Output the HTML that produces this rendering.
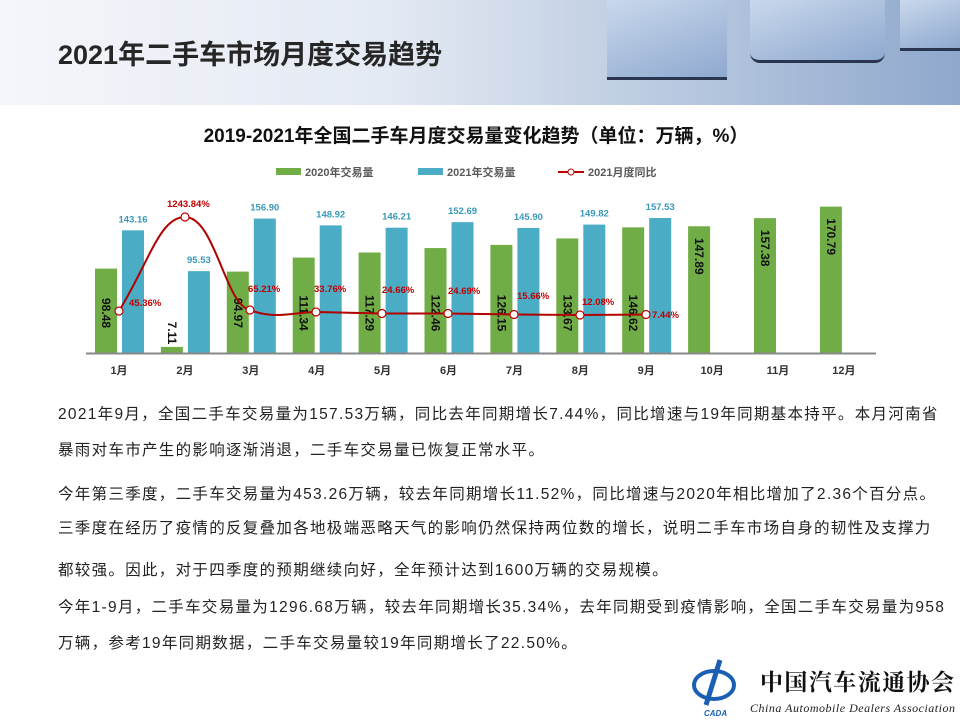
<!DOCTYPE html>
<html><head><meta charset="utf-8"><style>
*{margin:0;padding:0}
body{width:960px;height:720px;overflow:hidden;background:#fff;font-family:"Liberation Sans","Noto Sans CJK SC",sans-serif;position:relative}
.hdr{position:absolute;left:0;top:0;width:960px;height:105px;background:linear-gradient(90deg,#f4f6fa 0%,#e4eaf3 40%,#b9c9e0 70%,#8fa8cc 100%)}
.cube{position:absolute;background:linear-gradient(160deg,#c9d8ec,#8fa9cf);border-bottom:3px solid #2a3550}
.title{position:absolute;left:58px;top:33px;font-size:27px;font-weight:bold;color:#262626}
.txt{position:absolute;left:58px;font-size:15.5px;letter-spacing:1.3px;color:#222;white-space:nowrap}
</style></head><body>
<div class="hdr"></div>
<div class="cube" style="left:607px;top:0;width:120px;height:77px"></div>
<div class="cube" style="left:750px;top:0;width:135px;height:60px;border-radius:0 0 10px 10px"></div>
<div class="cube" style="left:900px;top:0;width:60px;height:48px"></div>
<div class="title">2021年二手车市场月度交易趋势</div>
<svg style="position:absolute;left:0;top:0" width="960" height="400" font-family="Liberation Sans, Noto Sans CJK SC, sans-serif">
<text x="476" y="142" text-anchor="middle" font-size="19" font-weight="bold" fill="#111">2019-2021年全国二手车月度交易量变化趋势（单位：万辆，%）</text>
<rect x="276" y="168" width="25" height="7" fill="#70ad47"/><text x="305" y="176" font-size="11" font-weight="bold" fill="#595959">2020年交易量</text>
<rect x="418" y="168" width="25" height="7" fill="#4bacc6"/><text x="447" y="176" font-size="11" font-weight="bold" fill="#595959">2021年交易量</text>
<line x1="558" y1="172" x2="584" y2="172" stroke="#c00000" stroke-width="2"/><circle cx="571" cy="172" r="3" fill="#fff" stroke="#c00000"/><text x="588" y="176" font-size="11" font-weight="bold" fill="#595959">2021月度同比</text>
<g id="bars"></g>
<line x1="86" y1="353.5" x2="876" y2="353.5" stroke="#888" stroke-width="2"/>
<path d="M119,311 C150,260 160,217 185,217 C215,217 225,305 250,310 C275,320 295,312 316,312 L382,313.5 L448,313.5 L514,314.5 L580,315 L646,314.5" fill="none" stroke="#b00000" stroke-width="2"/>
<g fill="#fff" stroke="#c00000" stroke-width="1.2">
<circle cx="119" cy="311" r="4"/><circle cx="185" cy="217" r="4"/><circle cx="250" cy="310" r="4"/><circle cx="316" cy="312" r="4"/><circle cx="382" cy="313.5" r="4"/><circle cx="448" cy="313.5" r="4"/><circle cx="514" cy="314.5" r="4"/><circle cx="580" cy="315" r="4"/><circle cx="646" cy="314.5" r="4"/>
</g>
<g font-size="9.5" font-weight="bold" fill="#c00000">
<text x="129" y="306">45.36%</text><text x="167" y="207">1243.84%</text><text x="248" y="292">65.21%</text><text x="314" y="292">33.76%</text><text x="382" y="293">24.66%</text><text x="448" y="294">24.69%</text><text x="517" y="299">15.66%</text><text x="582" y="305">12.08%</text><text x="652" y="318">7.44%</text>
</g>
<g font-size="11" font-weight="bold" fill="#333" text-anchor="middle" id="months"></g>
</svg>
<script>
var g20=[98.48,7.11,94.97,111.34,117.29,122.46,126.15,133.67,146.62,147.89,157.38,170.79];
var g21=[143.16,95.53,156.9,148.92,146.21,152.69,145.9,149.82,157.53];
var s='',m='',k=0.857,b=353;
for(var i=0;i<12;i++){var c=119+i*65.9;var h=g20[i]*k;
s+='<rect x="'+(c-24)+'" y="'+(b-h)+'" width="22" height="'+h+'" fill="#70ad47"/>';
var ty=(i==1)?333:(i>=9?b-h+30:b-40);
s+='<text transform="translate('+(c-17)+','+ty+') rotate(90)" text-anchor="middle" font-size="12" font-weight="bold" fill="#111">'+g20[i].toFixed(2)+'</text>';
if(i<9){var h2=g21[i]*k;s+='<rect x="'+(c+3)+'" y="'+(b-h2)+'" width="22" height="'+h2+'" fill="#4bacc6"/>';
s+='<text x="'+(c+14)+'" y="'+(b-h2-8)+'" text-anchor="middle" font-size="9.5" font-weight="bold" fill="#3a98b8">'+g21[i].toFixed(2)+'</text>';}
m+='<text x="'+c+'" y="374">'+(i+1)+'月</text>';}
document.getElementById('bars').innerHTML=s;document.getElementById('months').innerHTML=m;
</script>
<div class="txt" style="top:402px">2021年9月，全国二手车交易量为157.53万辆，同比去年同期增长7.44%，同比增速与19年同期基本持平。本月河南省</div>
<div class="txt" style="top:438px">暴雨对车市产生的影响逐渐消退，二手车交易量已恢复正常水平。</div>
<div class="txt" style="top:482px">今年第三季度，二手车交易量为453.26万辆，较去年同期增长11.52%，同比增速与2020年相比增加了2.36个百分点。</div>
<div class="txt" style="top:516px">三季度在经历了疫情的反复叠加各地极端恶略天气的影响仍然保持两位数的增长，说明二手车市场自身的韧性及支撑力</div>
<div class="txt" style="top:558px">都较强。因此，对于四季度的预期继续向好，全年预计达到1600万辆的交易规模。</div>
<div class="txt" style="top:595px">今年1-9月，二手车交易量为1296.68万辆，较去年同期增长35.34%，去年同期受到疫情影响，全国二手车交易量为958</div>
<div class="txt" style="top:631px">万辆，参考19年同期数据，二手车交易量较19年同期增长了22.50%。</div>
<svg style="position:absolute;left:690px;top:650px" width="270" height="70">
<ellipse cx="24" cy="35" rx="20" ry="14" fill="none" stroke="#1a5fb4" stroke-width="4"/>
<path d="M30,10 L16,55" stroke="#1a5fb4" stroke-width="5"/>
<text x="14" y="66" font-size="8" font-style="italic" font-weight="bold" fill="#1a5fb4">CADA</text>
<text x="70" y="40" font-size="23" font-weight="bold" fill="#111" font-family="Noto Serif CJK SC,serif" textLength="194">中国汽车流通协会</text>
<text x="60" y="62" font-size="12" font-style="italic" fill="#222" font-family="Liberation Serif,serif" textLength="205">China Automobile Dealers Association</text>
</svg>
</body></html>
